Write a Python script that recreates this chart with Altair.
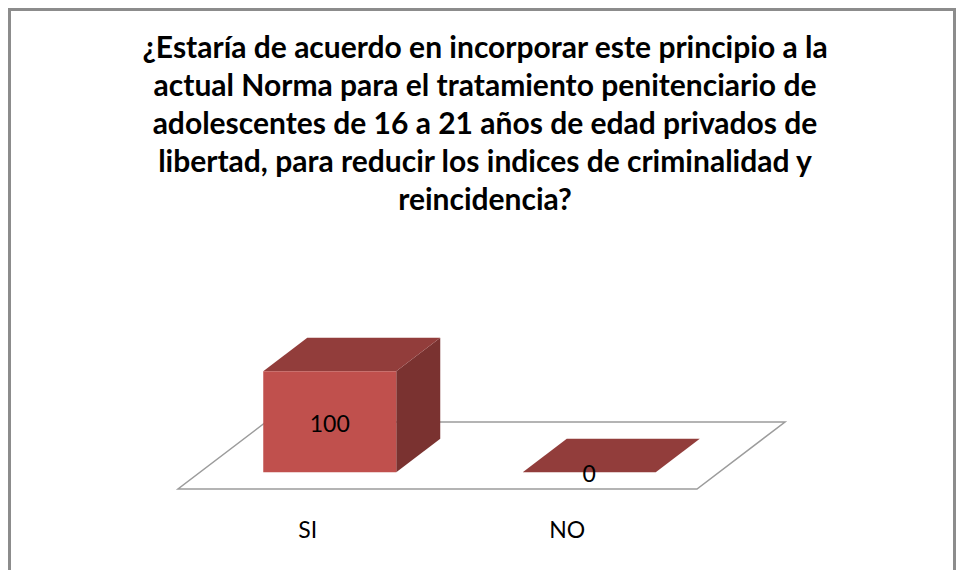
import altair as alt
import pandas as pd

# ---- data ----
categories = ["SI", "NO"]
values = [100, 0]
title_lines = [
    "¿Estaría de acuerdo en incorporar este principio a la",
    "actual Norma para el tratamiento penitenciario de",
    "adolescentes de 16 a 21 años de edad privados de",
    "libertad, para reducir los indices de criminalidad y",
    "reincidencia?",
]

# ---- layout / projection constants (style) ----
W, H = 948, 562
UNIT_PX = 259.5      # pixels per category slot
VAL_PX = 1.01        # pixels per value unit
X0_PX = 170          # pixel of category axis start
Y0_PX = 481          # pixel (from top) of value 0 at floor front
DX = 88 / UNIT_PX    # floor depth projected on x (in category units)
DY = 67 / VAL_PX     # floor depth projected on y (in value units)
BAR_W = 0.5125
GAP = (1 - BAR_W) / 2
D_FRONT, D_BACK = 0.25, 0.75

xs = alt.Scale(domain=[-X0_PX / UNIT_PX, (W - X0_PX) / UNIT_PX], nice=False, zero=False)
ys = alt.Scale(domain=[-(H - Y0_PX) / VAL_PX, Y0_PX / VAL_PX], nice=False, zero=False)

n = len(categories)

# floor parallelogram
floor = pd.DataFrame({
    "x": [0, DX, n, n + DX],
    "y": [0, 0, 0, DY],
    "y2": [0, DY, DY, DY],
})

front_rows, top_rows, side_rows, lab_rows = [], [], [], []
for i, (c, v) in enumerate(zip(categories, values)):
    xf = i + GAP + D_FRONT * DX
    xb = i + GAP + D_BACK * DX
    yf0 = D_FRONT * DY
    yb0 = D_BACK * DY
    front_rows.append({"cat": c, "x": xf, "x2": xf + BAR_W, "y": yf0, "y2": v + yf0})
    for x, y, y2 in [(xf, v + yf0, v + yf0), (xb, v + yf0, v + yb0),
                     (xf + BAR_W, v + yf0, v + yb0), (xb + BAR_W, v + yb0, v + yb0)]:
        top_rows.append({"cat": c, "x": x, "y": y, "y2": y2})
    for x, y, y2 in [(xf + BAR_W, yf0, v + yf0), (xb + BAR_W, yb0, v + yb0)]:
        side_rows.append({"cat": c, "x": x, "y": y, "y2": y2})
    lab_rows.append({"cat": c, "val": v, "cx": i + 0.5,
                     "vx": xf + BAR_W / 2, "vy": yf0 + v / 2})

front = pd.DataFrame(front_rows)
top = pd.DataFrame(top_rows)
side = pd.DataFrame(side_rows)
labs = pd.DataFrame(lab_rows)

X = lambda f: alt.X(f, scale=xs, axis=None)
Y = lambda f: alt.Y(f, scale=ys, axis=None)

floor_layer = alt.Chart(floor).mark_area(
    fill="white", stroke="#9c9c9c", strokeWidth=1.5, interpolate="linear"
).encode(x=X("x:Q"), y=Y("y:Q"), y2="y2:Q")

side_layer = alt.Chart(side).mark_area(color="#7A3230", interpolate="linear").encode(
    x=X("x:Q"), y=Y("y:Q"), y2="y2:Q", detail="cat:N")

top_layer = alt.Chart(top).mark_area(color="#923D3B", interpolate="linear").encode(
    x=X("x:Q"), y=Y("y:Q"), y2="y2:Q", detail="cat:N")

front_layer = alt.Chart(front).mark_rect(color="#C0504D").encode(
    x=X("x:Q"), x2="x2:Q", y=Y("y:Q"), y2="y2:Q")

val_layer = alt.Chart(labs).mark_text(
    font="Lato", fontSize=23, color="#000000", baseline="middle", dy=3
).encode(x=X("vx:Q"), y=Y("vy:Q"), text="val:Q")

cat_layer = alt.Chart(labs).mark_text(
    font="Lato", fontSize=23, color="#000000", baseline="middle"
).encode(x=X("cx:Q"), y=alt.value(523), text="cat:N")

dummy = pd.DataFrame({"k": [0]})
title_layer = alt.Chart(dummy).mark_text(
    text=title_lines, font="Lato", fontSize=30, fontWeight="bold", color="#000000",
    lineHeight=38, align="center", baseline="alphabetic"
).encode(x=alt.value(477), y=alt.value(50))

border_top = alt.Chart(dummy).mark_rule(color="#8c8c8c", strokeWidth=3).encode(
    x=alt.value(0), x2=alt.value(W), y=alt.value(1.5))
border_left = alt.Chart(dummy).mark_rule(color="#8c8c8c", strokeWidth=3).encode(
    x=alt.value(1.5), y=alt.value(0), y2=alt.value(H))
border_right = alt.Chart(dummy).mark_rule(color="#8c8c8c", strokeWidth=3).encode(
    x=alt.value(W - 1.5), y=alt.value(0), y2=alt.value(H))

chart = alt.layer(
    floor_layer, side_layer, top_layer, front_layer, val_layer, cat_layer,
    title_layer, border_top, border_left, border_right
).properties(
    width=W, height=H, padding=0,
    autosize=alt.AutoSizeParams(type="none"),
    background="white",
).configure_view(stroke=None)

chart.save("out.html", embed_options={"renderer": "svg", "actions": False})
